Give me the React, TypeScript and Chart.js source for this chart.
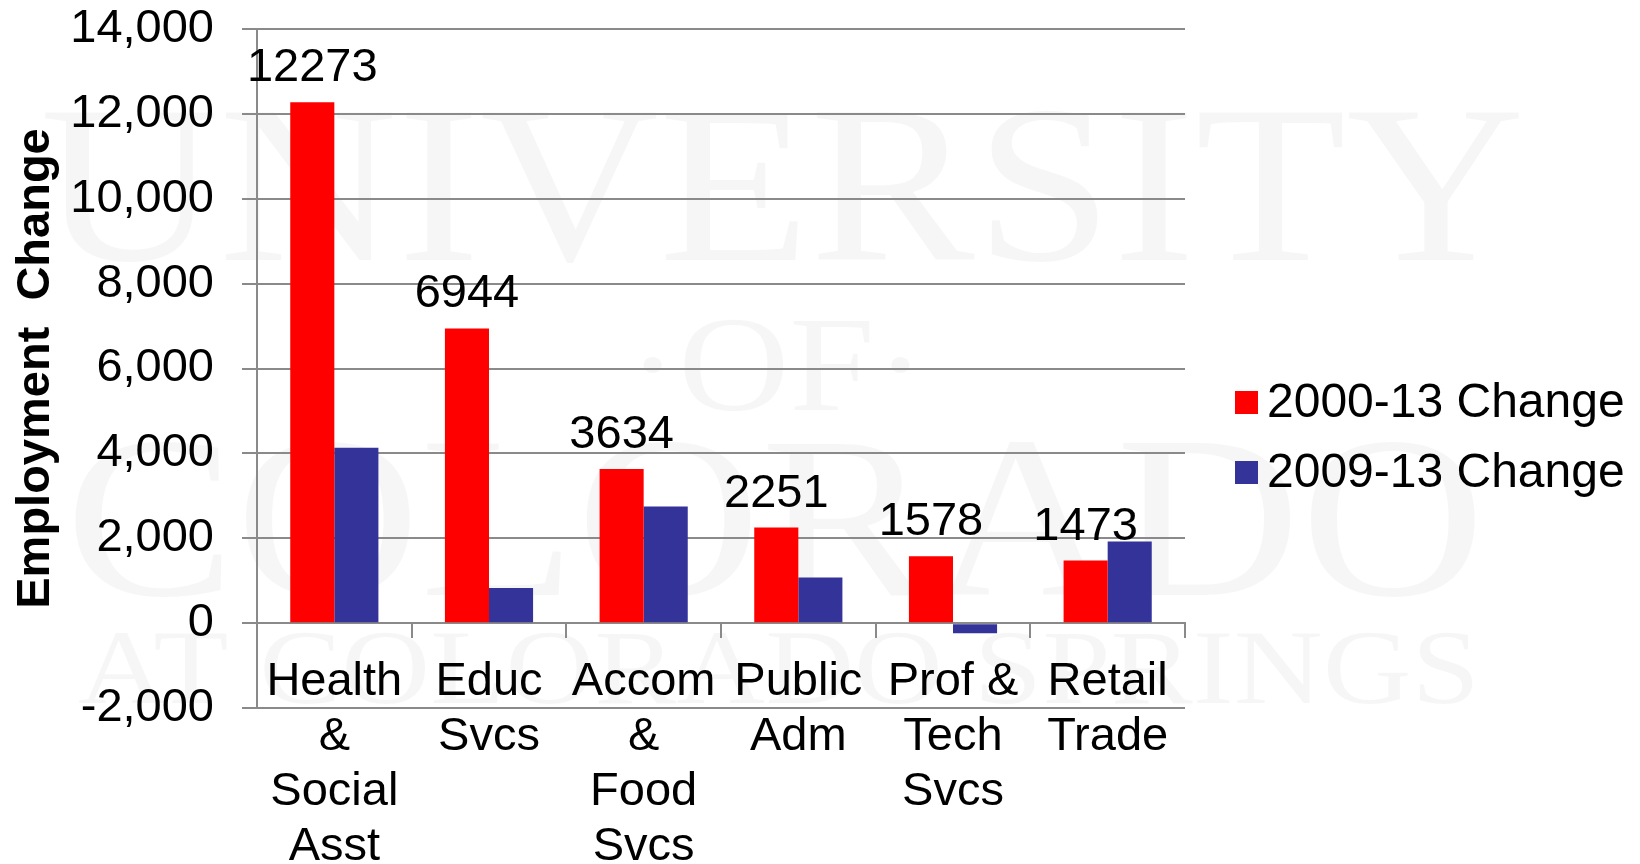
import { useEffect, useRef } from "react";
import { Chart, registerables } from "chart.js";

Chart.register(...registerables);

// ---- data ----
const categories: string[][] = [
  ["Health", "&", "Social", "Asst"],
  ["Educ", "Svcs"],
  ["Accom", "&", "Food", "Svcs"],
  ["Public", "Adm"],
  ["Prof &", "Tech", "Svcs"],
  ["Retail", "Trade"],
];
const seriesNames = ["2000-13 Change", "2009-13 Change"];
const change2000to13 = [12273, 6944, 3634, 2251, 1578, 1473];
const change2009to13 = [4130, 830, 2750, 1075, -240, 1925];
const yMin = -2000;
const yMax = 14000;
const yStep = 2000;
const yTitle = "Employment  Change";
const watermarkLines = ["UNIVERSITY", "·OF·", "COLORADO", "AT COLORADO SPRINGS"];

// ---- styles ----
const FONT = "'Liberation Sans', Arial, sans-serif";
const SERIF = "'Liberation Serif', 'Times New Roman', serif";
const GRID = "#8a8a8a";
const RED = "#FF0000";
const BLUE = "#333399";
const FS = 47;

const watermarkPlugin = {
  id: "watermark",
  beforeDraw(chart: any) {
    const ctx = chart.ctx as CanvasRenderingContext2D;
    // [left, right, baseline, fontSize]
    const spec = [
      [40, 1525, 260, 224],
      [627, 926, 410, 136],
      [65, 1485, 595, 230],
      [78, 1480, 703, 106],
    ];
    ctx.save();
    ctx.fillStyle = "rgba(0,0,0,0.035)";
    ctx.textAlign = "left";
    ctx.textBaseline = "alphabetic";
    watermarkLines.forEach((txt, i) => {
      const [x0, x1, base, size] = spec[i];
      ctx.font = `${size}px ${SERIF}`;
      const w = ctx.measureText(txt).width;
      const sx = (x1 - x0) / w;
      ctx.save();
      ctx.translate(x0, base);
      ctx.scale(sx, 1);
      ctx.fillText(txt, 0, 0);
      ctx.restore();
    });
    ctx.restore();
  },
};

const valueLabelPlugin = {
  id: "valueLabels",
  afterDatasetsDraw(chart: any) {
    const ctx = chart.ctx as CanvasRenderingContext2D;
    const meta = chart.getDatasetMeta(0);
    const data = chart.data.datasets[0].data as number[];
    ctx.save();
    ctx.font = `${FS}px ${FONT}`;
    ctx.fillStyle = "#000";
    ctx.textAlign = "center";
    ctx.textBaseline = "alphabetic";
    meta.data.forEach((bar: any, i: number) => {
      ctx.fillText(String(data[i]), bar.x, bar.y - 21);
    });
    ctx.restore();
  },
};

const legendPlugin = {
  id: "customLegend",
  afterDraw(chart: any) {
    const ctx = chart.ctx as CanvasRenderingContext2D;
    const x = chart.chartArea.right + 50;
    ctx.save();
    ctx.font = `48px ${FONT}`;
    ctx.textAlign = "left";
    ctx.textBaseline = "middle";
    chart.data.datasets.forEach((ds: any, i: number) => {
      const cy = 402.5 + i * 70;
      ctx.fillStyle = ds.backgroundColor;
      ctx.fillRect(x, cy - 11.5, 23, 23);
      ctx.fillStyle = "#000";
      ctx.fillText(ds.label, x + 32, cy + 1);
    });
    ctx.restore();
  },
};

export default function App() {
  const ref = useRef<HTMLCanvasElement | null>(null);

  useEffect(() => {
    if (!ref.current) return;
    const chart = new Chart(ref.current, {
      type: "bar",
      data: {
        labels: categories,
        datasets: [
          {
            label: seriesNames[0],
            data: change2000to13,
            backgroundColor: RED,
            categoryPercentage: 0.57,
            barPercentage: 1.0,
          },
          {
            label: seriesNames[1],
            data: change2009to13,
            backgroundColor: BLUE,
            categoryPercentage: 0.57,
            barPercentage: 1.0,
          },
        ],
      },
      options: {
        responsive: false,
        animation: false,
        devicePixelRatio: 1,
        layout: { padding: { left: 13, right: 455, top: 29, bottom: 156 } },
        plugins: {
          legend: { display: false },
          tooltip: { enabled: false },
        },
        scales: {
          x: {
            position: { y: 0 } as any,
            grid: {
              drawOnChartArea: false,
              drawTicks: true,
              tickLength: 14,
              color: GRID,
              lineWidth: 2,
            },
            border: { display: true, color: GRID, width: 2 },
            ticks: {
              font: { family: FONT, size: FS, lineHeight: 1.17 },
              color: "#000",
              padding: 17,
              maxRotation: 0,
              minRotation: 0,
              autoSkip: false,
            },
          },
          y: {
            min: yMin,
            max: yMax,
            afterFit(scale: any) {
              scale.width = 244;
              scale.paddingTop = 0;
              scale.paddingBottom = 0;
            },
            ticks: {
              stepSize: yStep,
              font: { family: FONT, size: FS },
              color: "#000",
              padding: 28,
            },
            grid: { color: GRID, lineWidth: 2, tickLength: 15 },
            border: { color: GRID, width: 2 },
            title: {
              display: true,
              text: yTitle,
              color: "#000",
              font: { family: FONT, size: FS, weight: "bold", lineHeight: 1 },
              padding: { top: 0, bottom: 0 },
            },
          },
        },
      },
      plugins: [watermarkPlugin, valueLabelPlugin, legendPlugin],
    });
    return () => chart.destroy();
  }, []);

  return (
    <div style={{ position: "fixed", left: 0, top: 0, width: 1640, height: 864, background: "#fff" }}>
      <canvas ref={ref} width={1640} height={864} style={{ display: "block", width: 1640, height: 864 }} />
    </div>
  );
}
